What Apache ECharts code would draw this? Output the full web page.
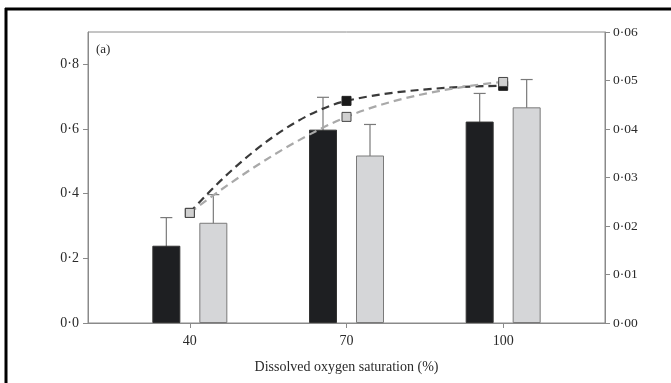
<!DOCTYPE html>
<html>
<head>
<meta charset="utf-8">
<script src="https://cdn.jsdelivr.net/npm/echarts@6/dist/echarts.min.js"></script>
<style>
  html, body { margin: 0; padding: 0; background: #fff; }
  #chart { width: 671px; height: 383px; }
</style>
</head>
<body>
<div id="chart"></div>
<script>
// data
var oxygen = [40, 70, 100];
var barBlack = [0.239, 0.598, 0.623];
var barBlackErr = [0.326, 0.698, 0.710];
var barGrey = [0.310, 0.518, 0.667];
var barGreyErr = [0.397, 0.614, 0.753];
var lineBlack = [0.0227, 0.0458, 0.0489];
var lineGrey = [0.0227, 0.0425, 0.0497];
var leftTicks = [0, 0.2, 0.4, 0.6, 0.8];

var BAR_W = 28, BAR_GAP = 19;
var serif = 'Liberation Serif';
var axisGrey = '#8a8a8a';
var textCol = '#2a2a2a';

function dot(v, d) { return v.toFixed(d).replace('.', '\u00b7'); }

function pairs(xs, ys) {
  return xs.map(function (x, i) { return [x, ys[i]]; });
}

// 误差线 (only upward whisker with cap)
function errSeries(tops, shift) {
  return {
    type: 'custom',
    xAxisIndex: 0,
    yAxisIndex: 0,
    z: 1,
    data: pairs(oxygen, tops),
    renderItem: function (params, api) {
      var p = api.coord([api.value(0), api.value(1)]);
      var x = p[0] + shift;
      var base = api.coord([api.value(0), 0])[1];
      return {
        type: 'group',
        children: [
          { type: 'line', shape: { x1: x, y1: base, x2: x, y2: p[1] }, style: { stroke: '#7a7a7a', lineWidth: 1.2 } },
          { type: 'line', shape: { x1: x - 6, y1: p[1], x2: x + 6, y2: p[1] }, style: { stroke: '#7a7a7a', lineWidth: 1.2 } }
        ]
      };
    }
  };
}

var chart = echarts.init(document.getElementById('chart'));
var shift = (BAR_W + BAR_GAP) / 2;

var option = {
  animation: false,
  backgroundColor: '#fff',
  textStyle: { fontFamily: serif },
  grid: {
    left: 88, right: 66, top: 32, bottom: 60,
    show: true, borderColor: axisGrey, borderWidth: 1
  },
  graphic: [
    { type: 'line', shape: { x1: 5, y1: 9, x2: 671, y2: 9 }, style: { stroke: '#000', lineWidth: 3 } },
    { type: 'line', shape: { x1: 6, y1: 8, x2: 6, y2: 383 }, style: { stroke: '#000', lineWidth: 3 } },
    { type: 'text', left: 96, top: 43, style: { text: '(a)', font: '13px "Liberation Serif"', fill: textCol } }
  ],
  xAxis: {
    type: 'value',
    min: 20.5,
    max: 119.5,
    name: 'Dissolved oxygen saturation (%)',
    nameLocation: 'middle',
    nameGap: 37,
    nameTextStyle: { fontFamily: serif, fontSize: 14, color: textCol },
    splitLine: { show: false },
    axisLine: { lineStyle: { color: axisGrey } },
    axisTick: { customValues: oxygen, length: 5, lineStyle: { color: axisGrey } },
    axisLabel: { customValues: oxygen, fontFamily: serif, fontSize: 14, color: textCol, margin: 11 }
  },
  yAxis: [
    {
      type: 'value',
      min: 0,
      max: 0.9,
      position: 'left',
      splitLine: { show: false },
      axisLine: { show: true, lineStyle: { color: axisGrey } },
      axisTick: { show: true, customValues: leftTicks, length: 5, lineStyle: { color: axisGrey } },
      axisLabel: {
        customValues: leftTicks, fontFamily: serif, fontSize: 14, color: textCol, margin: 9,
        formatter: function (v) { return dot(v, 1); }
      }
    },
    {
      type: 'value',
      min: 0,
      max: 0.06,
      interval: 0.01,
      position: 'right',
      splitLine: { show: false },
      axisLine: { show: true, lineStyle: { color: axisGrey } },
      axisTick: { show: true, length: 5, lineStyle: { color: axisGrey } },
      axisLabel: {
        fontFamily: serif, fontSize: 13.5, color: textCol, margin: 8,
        formatter: function (v) { return dot(v, 2); }
      }
    }
  ],
  series: [
    errSeries(barBlackErr, -shift),
    errSeries(barGreyErr, shift),
    {
      type: 'bar',
      yAxisIndex: 0,
      z: 2,
      barWidth: BAR_W,
      barGap: (BAR_GAP / BAR_W * 100) + '%',
      data: pairs(oxygen, barBlack),
      itemStyle: { color: '#1e1f22', borderColor: '#333', borderWidth: 1 }
    },
    {
      type: 'bar',
      yAxisIndex: 0,
      z: 2,
      barWidth: BAR_W,
      data: pairs(oxygen, barGrey),
      itemStyle: { color: '#d5d6d8', borderColor: '#7a7a7a', borderWidth: 1 }
    },
    {
      type: 'line',
      yAxisIndex: 1,
      z: 4,
      smooth: 0.45,
      data: pairs(oxygen, lineBlack),
      symbol: 'rect',
      symbolSize: 9,
      lineStyle: { color: '#3a3a3a', width: 2.2, type: [8, 5] },
      itemStyle: { color: '#1a1a1a', borderColor: '#222', borderWidth: 1 }
    },
    {
      type: 'line',
      yAxisIndex: 1,
      z: 5,
      smooth: 0.45,
      data: pairs(oxygen, lineGrey),
      symbol: 'rect',
      symbolSize: 9,
      lineStyle: { color: '#a9a9a9', width: 2.2, type: [8, 5] },
      itemStyle: { color: '#d0d0d0', borderColor: '#444', borderWidth: 1 }
    }
  ]
};

chart.setOption(option);
</script>
</body>
</html>
